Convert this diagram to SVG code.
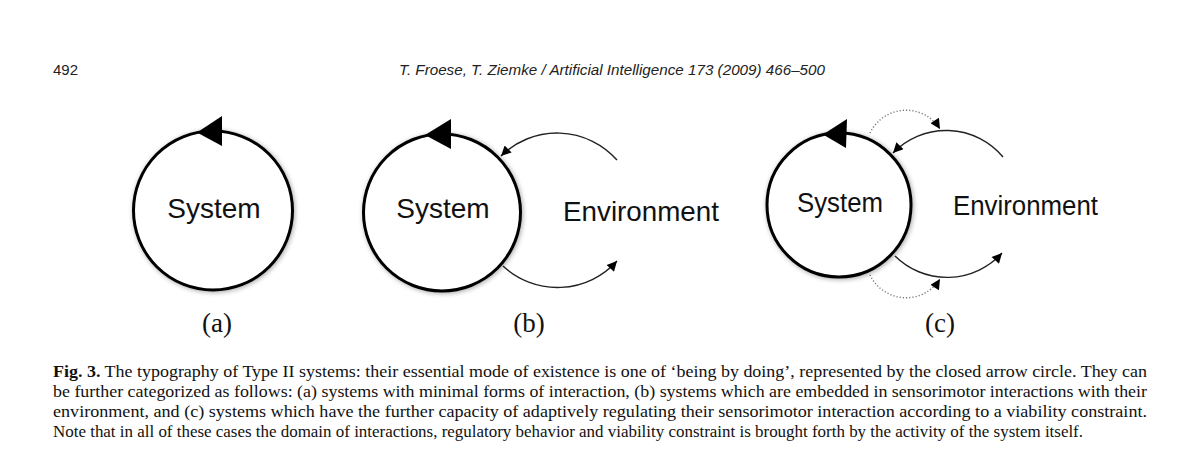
<svg xmlns="http://www.w3.org/2000/svg" width="1200" height="459" viewBox="0 0 1200 459">
<style>
.bg{fill:#fff}
.sys{fill:#fff;stroke:#000;stroke-width:3}
.lbl{font-family:"Liberation Sans",Arial,sans-serif;fill:#111}
.sub{font-family:"Liberation Serif","Times New Roman",serif;font-size:27px;fill:#111;text-anchor:middle}
.cap{font-family:"Liberation Serif","Times New Roman",serif;font-size:17px;fill:#111}
.hdr{font-family:"Liberation Sans",Arial,sans-serif;font-size:15px;fill:#222}
.env{fill:none;stroke:#222;stroke-width:1.4}
.dot{fill:none;stroke:#777;stroke-width:1.4;stroke-dasharray:1.2 2}
.head{fill:#000}
</style>
<defs>
<filter id="sh" x="-20%" y="-20%" width="140%" height="140%">
<feGaussianBlur in="SourceAlpha" stdDeviation="2.5" result="b"/>
<feOffset in="b" dx="1" dy="1" result="o"/>
<feComponentTransfer in="o" result="s"><feFuncA type="linear" slope="0.35"/></feComponentTransfer>
<feMerge><feMergeNode in="s"/><feMergeNode in="SourceGraphic"/></feMerge>
</filter>
<marker id="ah" viewBox="0 0 10 10" refX="10" refY="5" markerWidth="12" markerHeight="10" markerUnits="userSpaceOnUse" orient="auto">
<path d="M0,0 L10,5 L0,10 z" fill="#000"/>
</marker>
</defs>
<rect class="bg" x="0" y="0" width="1200" height="459"/>

<g id="header">
<text class="hdr" x="53" y="75">492</text>
<text class="hdr" x="399" y="75" font-style="italic" textLength="426" lengthAdjust="spacingAndGlyphs">T. Froese, T. Ziemke / Artificial Intelligence 173 (2009) 466–500</text>
</g>

<g id="connectors">
<path class="env" d="M 617 160 A 80 80 0 0 0 501 156" marker-end="url(#ah)"/>
<path class="env" d="M 503 266 A 80 80 0 0 0 617 261" marker-end="url(#ah)"/>
<path class="env" d="M 1003 157 A 74 74 0 0 0 893 153" marker-end="url(#ah)"/>
<path class="env" d="M 895 256 A 74 74 0 0 0 1002 253" marker-end="url(#ah)"/>
<path class="dot" d="M 870 133 A 40 40 0 0 1 940 129" marker-end="url(#ah)"/>
<path class="dot" d="M 870 275 A 40 40 0 0 0 940 279" marker-end="url(#ah)"/>
</g>

<g id="system-a">
<circle class="sys" cx="213" cy="210.5" r="79.5" filter="url(#sh)"/>
<polygon class="head" points="197,132.5 222,116 222,146"/>
<text class="lbl" x="214" y="218" font-size="28" text-anchor="middle">System</text>
</g>

<g id="system-b">
<circle class="sys" cx="442" cy="212.5" r="78.5" filter="url(#sh)"/>
<polygon class="head" points="425,135 451,119 451,149"/>
<text class="lbl" x="443" y="218" font-size="28" text-anchor="middle">System</text>
</g>

<g id="environment-b">
<text class="lbl" x="563" y="221" font-size="28" textLength="156" lengthAdjust="spacingAndGlyphs">Environment</text>
</g>

<g id="system-c">
<circle class="sys" cx="839" cy="205" r="72" filter="url(#sh)"/>
<polygon class="head" points="823,134.5 847,119 846,148"/>
<text class="lbl" x="797" y="212" font-size="27" textLength="86" lengthAdjust="spacingAndGlyphs">System</text>
</g>

<g id="environment-c">
<text class="lbl" x="953" y="215" font-size="27" textLength="145" lengthAdjust="spacingAndGlyphs">Environment</text>
</g>

<g id="labels">
<text class="sub" x="217" y="332">(a)</text>
<text class="sub" x="529" y="332">(b)</text>
<text class="sub" x="940" y="332">(c)</text>
</g>

<g id="caption">
<text class="cap" x="53" y="377" textLength="1094" lengthAdjust="spacingAndGlyphs"><tspan font-weight="bold">Fig. 3.</tspan> The typography of Type II systems: their essential mode of existence is one of ‘being by doing’, represented by the closed arrow circle. They can</text>
<text class="cap" x="53" y="397" textLength="1094" lengthAdjust="spacingAndGlyphs">be further categorized as follows: (a) systems with minimal forms of interaction, (b) systems which are embedded in sensorimotor interactions with their</text>
<text class="cap" x="53" y="417" textLength="1094" lengthAdjust="spacingAndGlyphs">environment, and (c) systems which have the further capacity of adaptively regulating their sensorimotor interaction according to a viability constraint.</text>
<text class="cap" x="53" y="437" textLength="1030" lengthAdjust="spacingAndGlyphs">Note that in all of these cases the domain of interactions, regulatory behavior and viability constraint is brought forth by the activity of the system itself.</text>
</g>
</svg>
